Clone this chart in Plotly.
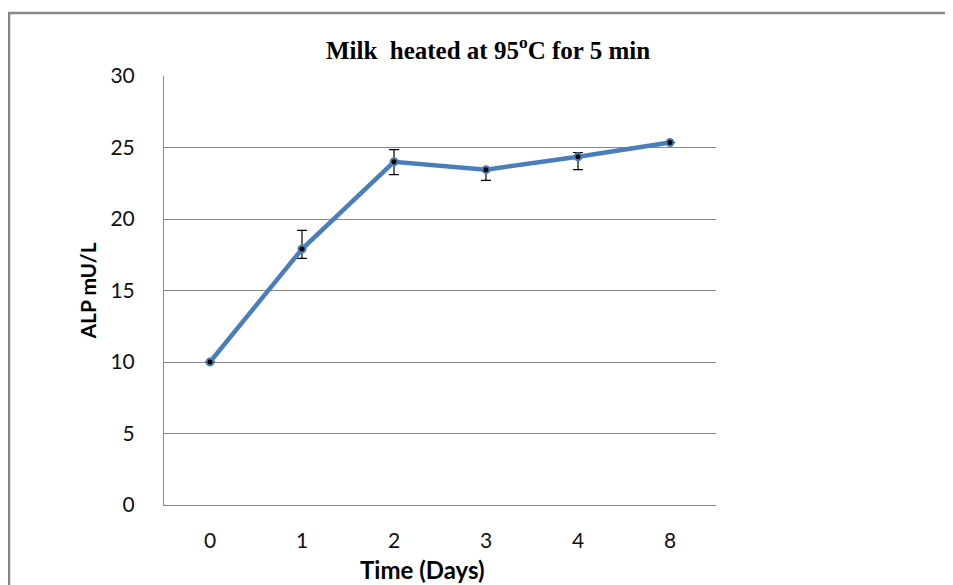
import plotly.graph_objects as go

days = ["0", "1", "2", "3", "4", "8"]
alp = [10.0, 17.9, 24.0, 23.45, 24.35, 25.35]
err_plus = [0.0, 1.3, 0.85, 0.0, 0.3, 0.0]
err_minus = [0.0, 0.65, 0.9, 0.75, 0.9, 0.0]
y_ticks = [0, 5, 10, 15, 20, 25, 30]

blue = "#4A7EBB"
grid = "#888888"

fig = go.Figure()
fig.add_trace(go.Scatter(
    x=days, y=alp, mode="lines+markers",
    line=dict(color=blue, width=4.5),
    marker=dict(symbol="circle", size=7, color="#000000", line=dict(color=blue, width=2)),
    error_y=dict(type="data", symmetric=False, array=err_plus, arrayminus=err_minus,
                 color="#000000", thickness=1.2, width=5),
    showlegend=False,
))

# page body has an 8px margin, so the figure is 8px smaller and margins compensate
fig.update_layout(
    width=945, height=577,
    margin=dict(l=156, r=237, t=68, b=80),
    paper_bgcolor="white", plot_bgcolor="white",
    title=dict(text="<b>Milk  heated at 95<sup>o</sup>C for 5 min</b>",
               font=dict(family="Liberation Serif", size=25, color="#000000"),
               x=0.587, xref="paper", xanchor="center",
               y=1 - 42 / 577, yref="container", yanchor="middle"),
    xaxis=dict(
        type="category", range=[-0.5, 5.5],
        showgrid=False, showline=True, linecolor=grid, linewidth=1,
        ticks="", ticklabelstandoff=17,
        tickfont=dict(family="Lato", size=21, color="#111111"),
    ),
    yaxis=dict(
        range=[0, 30], tickvals=y_ticks,
        showgrid=True, gridcolor=grid, gridwidth=1,
        showline=True, linecolor=grid, linewidth=1, zeroline=False,
        ticks="", ticklabelstandoff=24,
        tickfont=dict(family="Lato", size=21, color="#111111"),
        title=dict(text="<b>ALP mU/L</b>", standoff=8,
                   font=dict(family="Lato", size=21, color="#000000")),
    ),
    annotations=[dict(text="<b>Time (Days)</b>", xref="paper", yref="paper",
                      x=(422 - 164) / 552, y=(505 - 569) / 429,
                      xanchor="center", yanchor="middle", showarrow=False,
                      font=dict(family="Lato", size=24, color="#000000"))],
    shapes=[dict(type="rect", xref="paper", yref="paper",
                 x0=-155 / 552, x1=(960 - 164) / 552,
                 y0=(505 - 600) / 429, y1=(505 - 13) / 429,
                 line=dict(color="#878787", width=2.5), fillcolor="rgba(0,0,0,0)",
                 layer="below")],
)

fig.write_html("out.html")
